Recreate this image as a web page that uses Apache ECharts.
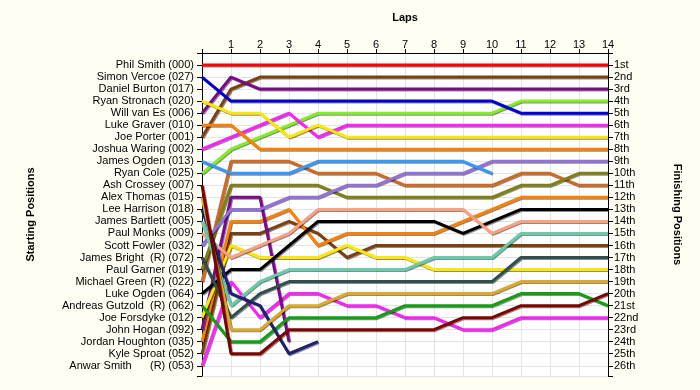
<!DOCTYPE html>
<html><head><meta charset="utf-8">
<script src="https://cdn.jsdelivr.net/npm/echarts@6/dist/echarts.min.js"></script>
<style>html,body{margin:0;padding:0;background:#fffef3}#c{width:700px;height:390px}</style>
</head><body><div id="c"></div><script>
// Starting grid (position 1..26)
const startNames = [
  'Phil Smith (000)', 'Simon Vercoe (027)', 'Daniel Burton (017)', 'Ryan Stronach (020)',
  'Will van Es (006)', 'Luke Graver (010)', 'Joe Porter (001)', 'Joshua Waring (002)',
  'James Ogden (013)', 'Ryan Cole (025)', 'Ash Crossey (007)', 'Alex Thomas (015)',
  'Lee Harrison (018)', 'James Bartlett (005)', 'Paul Monks (009)', 'Scott Fowler (032)',
  'James Bright  (R) (072)', 'Paul Garner (019)', 'Michael Green (R) (022)', 'Luke Ogden (064)',
  'Andreas Gutzold  (R) (062)', 'Joe Forsdyke (012)', 'John Hogan (092)', 'Jordan Houghton (035)',
  'Kyle Sproat (052)', 'Anwar Smith      (R) (053)'
];
const finishLabels = ['1st','2nd','3rd','4th','5th','6th','7th','8th','9th','10th','11th','12th','13th',
  '14th','15th','16th','17th','18th','19th','20th','21st','22nd','23rd','24th','25th','26th'];
const lapTicks = [1,2,3,4,5,6,7,8,9,10,11,12,13,14];

// Position after each lap (index 0 = start)
const philSmith      = [1,1,1,1,1,1,1,1,1,1,1,1,1,1,1];
const simonVercoe    = [2,4,4,4,4,4,4,4,4,4,4,5,5,5,5];
const ryanStronach   = [4,5,5,7,6,7,7,7,7,7,7,7,7,7,7];
const willVanEs      = [5,2,3,3,3,3,3,3,3,3,3,3,3,3,3];
const lukeGraver     = [6,6,8,8,8,8,8,8,8,8,8,8,8,8,8];
const joePorter      = [7,3,2,2,2,2,2,2,2,2,2,2,2,2,2];
const joshuaWaring   = [8,7,6,5,7,6,6,6,6,6,6,6,6,6,6];
const jamesOgden     = [9,10,10,10,9,9,9,9,9,9,10];
const ryanCole       = [10,8,7,6,5,5,5,5,5,5,5,4,4,4,4];
const ashCrossey     = [11,25,25,23,23,23,23,23,23,22,22,21,21,21,20];
const alexThomas     = [12,23,23,21,21,20,20,20,20,20,20,19,19,19,19];
const leeHarrison    = [13,20,21,25,24];
const jamesBartlett  = [14,21,19,18,18,18,18,18,17,17,17,15,15,15,15];
const paulMonks      = [15,17,16,15,13,13,13,13,13,13,15,14,14,14,14];
const scottFowler    = [16,13,13,12,12,11,11,10,10,10,9,9,9,9,9];
const jamesBright    = [17,22,20,19,19,19,19,19,19,19,19,17,17,17,17];
const paulGarner     = [18,11,11,11,11,12,12,12,12,12,12,11,11,10,10];
const michaelGreen   = [19,9,9,9,10,10,10,11,11,11,11,10,10,11,11];
const lukeOgden      = [20,18,18,16,14,14,14,14,14,15,14,13,13,13,13];
const andreasGutzold = [21,24,24,22,22,22,22,21,21,21,21,20,20,20,21];
const joeForsdyke    = [22,16,17,17,17,16,17,17,18,18,18,18,18,18,18];
const johnHogan      = [23,12,12,24];
const jordanHoughton = [24,14,14,13,16,15,15,15,15,14,13,12,12,12,12];
const kyleSproat     = [25,15,15,14,15,17,16,16,16,16,16,16,16,16,16];
const anwarSmith     = [26,19,22,20,20,21,21,22,22,23,23,22,22,22,22];

const drivers = [
  ['Anwar Smith', anwarSmith], ['Kyle Sproat', kyleSproat], ['Jordan Houghton', jordanHoughton],
  ['John Hogan', johnHogan], ['Joe Forsdyke', joeForsdyke], ['Andreas Gutzold', andreasGutzold],
  ['Luke Ogden', lukeOgden], ['Michael Green', michaelGreen], ['Paul Garner', paulGarner],
  ['James Bright', jamesBright], ['Scott Fowler', scottFowler], ['Paul Monks', paulMonks],
  ['James Bartlett', jamesBartlett], ['Lee Harrison', leeHarrison], ['Alex Thomas', alexThomas],
  ['Ash Crossey', ashCrossey], ['Ryan Cole', ryanCole], ['James Ogden', jamesOgden],
  ['Joshua Waring', joshuaWaring], ['Joe Porter', joePorter], ['Luke Graver', lukeGraver],
  ['Will van Es', willVanEs], ['Ryan Stronach', ryanStronach], ['Simon Vercoe', simonVercoe],
  ['Phil Smith', philSmith]
];
const colors = {
  'Phil Smith':'#ff0000', 'Simon Vercoe':'#0000dd', 'Ryan Stronach':'#ffe800', 'Will van Es':'#7d0a8c',
  'Luke Graver':'#ff8000', 'Joe Porter':'#7f4010', 'Joshua Waring':'#ff22ff', 'James Ogden':'#3399ff',
  'Ryan Cole':'#80f020', 'Ash Crossey':'#800000', 'Alex Thomas':'#ddaa22', 'Lee Harrison':'#202070',
  'James Bartlett':'#66cdaa', 'Paul Monks':'#ffa080', 'Scott Fowler':'#9370db', 'James Bright':'#2f4f4f',
  'Paul Garner':'#808010', 'Michael Green':'#d2691e', 'Luke Ogden':'#000000', 'Andreas Gutzold':'#10a010',
  'Joe Forsdyke':'#ffe800', 'John Hogan':'#7d0a8c', 'Jordan Houghton':'#ff8000', 'Kyle Sproat':'#7f4010',
  'Anwar Smith':'#ff22ff'
};

const font = 'Arial, "Liberation Sans", sans-serif';
const yMax = 26.85;
const series = drivers.map(([name, arr]) => ({
  type: 'line', name, xAxisIndex: 0, yAxisIndex: 0,
  data: arr.map((p, i) => [i, p]),
  symbol: 'none', silent: true,
  lineStyle: { color: colors[name], width: 3, shadowColor: 'rgba(0,0,0,0.45)', shadowBlur: 0, shadowOffsetX: 1, shadowOffsetY: 1 }
}));

const chart = echarts.init(document.getElementById('c'), null, { renderer: 'canvas' });
chart.setOption({
  animation: false,
  backgroundColor: '#fffef3',
  grid: { left: 202, right: 92, top: 53, bottom: 14, show: true, backgroundColor: '#ffffff', borderWidth: 0 },
  xAxis: {
    type: 'value', position: 'top', min: 0, max: 14, interval: 1,
    name: 'Laps', nameLocation: 'middle', nameGap: 30,
    nameTextStyle: { fontFamily: font, fontSize: 11, fontWeight: 'bold', color: '#000' },
    axisLine: { show: true, lineStyle: { color: '#000', width: 1 } },
    axisTick: { show: true, inside: false, length: 4, lineStyle: { color: '#000' } },
    axisLabel: { fontFamily: font, fontSize: 11, color: '#000', margin: 3,
      formatter: v => (lapTicks.indexOf(v) >= 0 ? String(v) : '') },
    splitLine: { show: true, lineStyle: { color: '#e4e4e4', width: 1 } }
  },
  yAxis: [
    {
      type: 'value', position: 'left', inverse: true, min: 0, max: yMax, interval: 1,
      name: 'Starting Positions', nameLocation: 'middle', nameGap: 166, nameRotate: 90,
      nameTextStyle: { fontFamily: font, fontSize: 11, fontWeight: 'bold', color: '#000' },
      axisLine: { show: true, lineStyle: { color: '#000', width: 1 } },
      axisTick: { show: true, inside: false, length: 5, lineStyle: { color: '#000' } },
      axisLabel: { fontFamily: font, fontSize: 11, color: '#000', margin: 8,
        formatter: v => (Number.isInteger(v) && v >= 1 && v <= 26 ? startNames[v - 1] : '') },
      splitLine: { show: true, lineStyle: { color: '#e4e4e4', width: 1 } }
    },
    {
      type: 'value', position: 'right', inverse: true, min: 0, max: yMax, interval: 1,
      name: 'Finishing Positions', nameLocation: 'middle', nameGap: 64, nameRotate: -90,
      nameTextStyle: { fontFamily: font, fontSize: 11, fontWeight: 'bold', color: '#000' },
      axisLine: { show: true, lineStyle: { color: '#000', width: 1 } },
      axisTick: { show: true, inside: false, length: 5, lineStyle: { color: '#000' } },
      axisLabel: { fontFamily: font, fontSize: 11, color: '#000', margin: 6,
        formatter: v => (Number.isInteger(v) && v >= 1 && v <= 26 ? finishLabels[v - 1] : '') },
      splitLine: { show: false }
    }
  ],
  series
});
</script></body></html>
